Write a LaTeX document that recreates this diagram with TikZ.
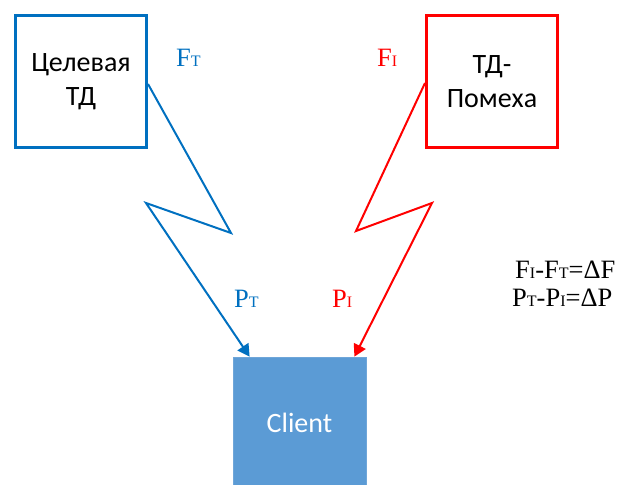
\documentclass[tikz,border=0pt]{standalone}
\usepackage{fontspec}
\setmainfont{Liberation Serif}
\newfontfamily\calibri{Carlito}
\usetikzlibrary{arrows.meta}
\definecolor{tblue}{HTML}{0070C0}
\definecolor{tred}{HTML}{FF0000}
\definecolor{cfill}{HTML}{5B9BD5}
\definecolor{cedge}{HTML}{6FA6D9}
\newcommand{\lbig}[1]{{\fontsize{26.5}{30}\selectfont #1}}
\newcommand{\lsml}[1]{{\fontsize{16}{19}\selectfont #1}}
\tikzset{
  srcbox/.style={draw, line width=3pt, fill=white, minimum width=131pt, minimum height=131pt,
    inner sep=0pt, align=center, font=\calibri\fontsize{28}{34}\selectfont},
  client/.style={draw=cedge, line width=0.8pt, fill=cfill, minimum width=133pt, minimum height=132pt,
    inner sep=0pt, text=white, font=\calibri\fontsize{28}{34}\selectfont},
  wave/.style={line width=2pt, line join=miter, -{Triangle[length=12pt,width=13pt]}},
  lab/.style={anchor=base west, inner sep=0pt}
}
\begin{document}
\begin{tikzpicture}[x=1pt,y=-1pt]
\useasboundingbox (0,0) rectangle (623,484);
\node[srcbox, draw=tblue] (lt) at (81,81.5) {Целевая\\ТД};
\node[srcbox, draw=tred] (rt) at (492,81.5) {ТД-\\Помеха};
\node[client] (cl) at (299.5,423) {Client};
\coordinate (b1) at (231,233);
\coordinate (b2) at (146,203);
\coordinate (r1) at (356,231);
\coordinate (r2) at (432,203);
\draw[wave, tblue] ([yshift=-2.5pt]lt.east) -- (b1) -- (b2) -- ([xshift=17pt]cl.north west);
\draw[wave, tred] ([yshift=-1.5pt]rt.west) -- (r1) -- (r2) -- ([xshift=-12pt]cl.north east);
\node[lab, text=tblue] (ft) at (176,67) {\lbig{F}\lsml{T}};
\node[lab, text=tred] (fi) at (377,67) {\lbig{F}\lsml{I}};
\node[lab, text=tblue] (pt) at (234,307) {\lbig{P}\lsml{T}};
\node[lab, text=tred] (pi) at (332,307) {\lbig{P}\lsml{I}};
\node[lab] (e1) at (515,278) {\lbig{F}\lsml{I}\lbig{-F}\lsml{T}\lbig{=ΔF}};
\node[lab] (e2) at (512,306) {\lbig{P}\lsml{T}\lbig{-P}\lsml{I}\lbig{=ΔP}};
\end{tikzpicture}
\end{document}
